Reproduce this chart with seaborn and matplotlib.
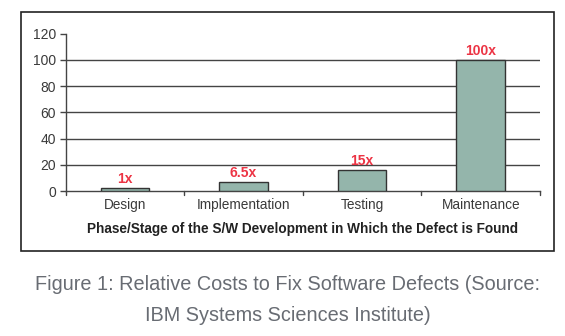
import matplotlib
matplotlib.use("Agg")
import matplotlib.pyplot as plt
import seaborn as sns
import pandas as pd
from matplotlib.patches import Rectangle

categories = ["Design", "Implementation", "Testing", "Maintenance"]
values = [2.5, 7, 16, 100]
labels = ["1x", "6.5x", "15x", "100x"]
yticks = [0, 20, 40, 60, 80, 100, 120]

sns.set_style("white")
plt.rcParams['font.family'] = ['Liberation Sans', 'DejaVu Sans']

df = pd.DataFrame({"phase": categories, "cost": values})

fig = plt.figure(figsize=(5.65, 3.36), dpi=100)
# outer frame
fig.patches.append(Rectangle((0.038, 0.253), 0.943, 0.710, transform=fig.transFigure,
                             fill=False, edgecolor="#222222", linewidth=1.2))
ax = fig.add_axes([0.1163, 0.4315, 0.8395, 0.468])
sns.barplot(data=df, x="phase", y="cost", ax=ax, color="#94b5ab", saturation=1,
            width=0.41, edgecolor="#333333", linewidth=1.0, zorder=3)
ax.set_xlim(-0.5, 3.5)
ax.set_ylim(0, 120)
ax.set_yticks(yticks)
for yv in yticks[1:-1]:
    ax.axhline(yv, color="#444444", linewidth=1.0, zorder=1)
for s in ["top", "right"]:
    ax.spines[s].set_visible(False)
for s in ["left", "bottom"]:
    ax.spines[s].set_color("#444444")
    ax.spines[s].set_linewidth(1.0)
ax.set_xticks(range(len(categories)))
ax.set_xticklabels(categories, fontsize=9.8, color="#3a3a3a")
ax.tick_params(axis="x", length=0, pad=5)
ax.tick_params(axis="y", length=4, width=1.0, color="#444444", labelsize=10,
               labelcolor="#3a3a3a", direction="out", left=True, pad=3)
# category boundary ticks
for xb in [-0.5, 0.5, 1.5, 2.5, 3.5]:
    ax.plot([xb, xb], [0, -3], color="#444444", linewidth=1.0, clip_on=False, zorder=4)
ax.set_xlabel("Phase/Stage of the S/W Development in Which the Defect is Found",
              fontsize=9.8, fontweight="bold", color="#222222", labelpad=7)
ax.set_ylabel("")
for i, (v, lab) in enumerate(zip(values, labels)):
    ax.text(i, v + 1.5, lab, ha="center", va="bottom", color="#ec3444",
            fontsize=10, fontweight="bold")

fig.text(287.5 / 565, 1 - 289.5 / 336, "Figure 1: Relative Costs to Fix Software Defects (Source:",
         ha="center", va="baseline", fontsize=14.3, color="#686c73")
fig.text(287.5 / 565, 1 - 321 / 336, "IBM Systems Sciences Institute)",
         ha="center", va="baseline", fontsize=14.3, color="#686c73")

fig.savefig("out.png", dpi=100)
